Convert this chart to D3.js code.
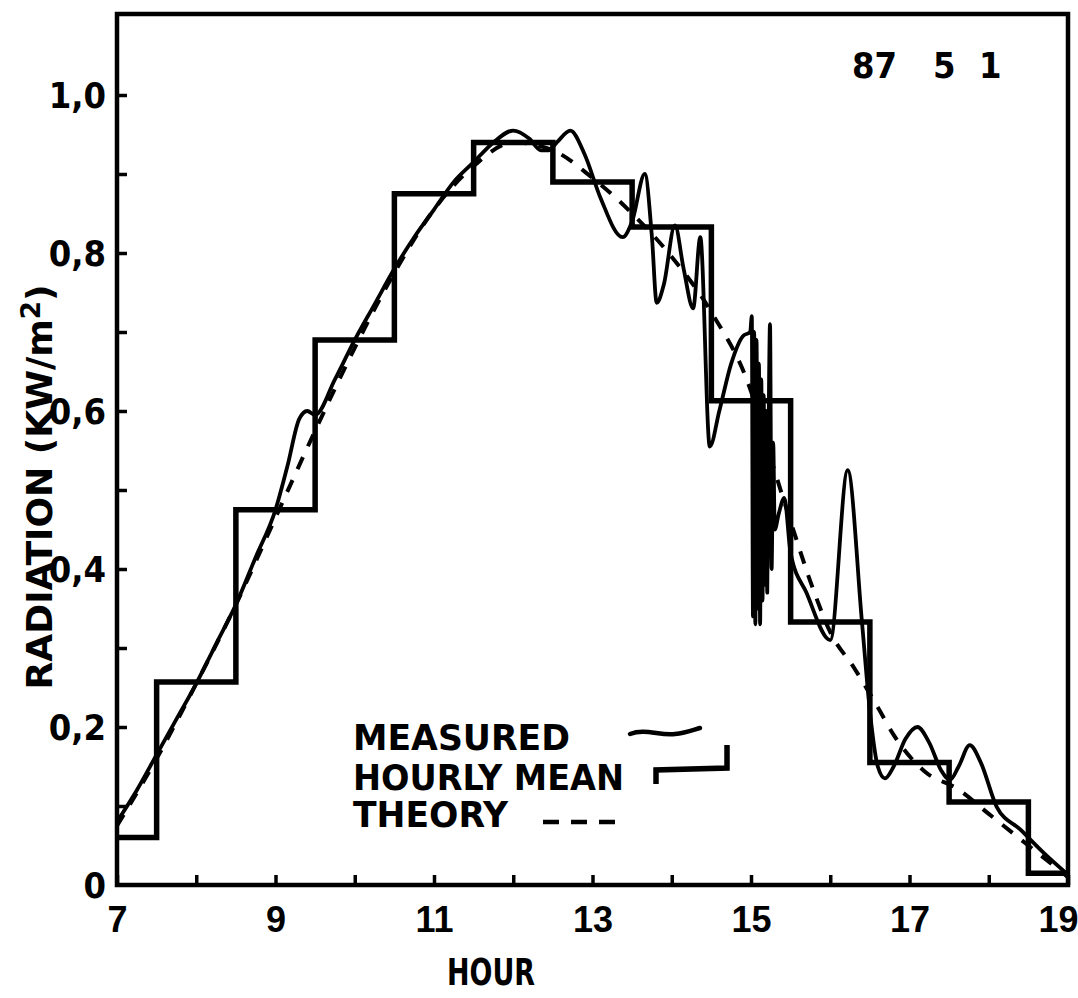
<!DOCTYPE html>
<html>
<head>
<meta charset="utf-8">
<script src="https://cdn.jsdelivr.net/npm/d3@7"></script>
<style>
  html, body { margin: 0; padding: 0; background: #fff; }
  svg { display: block; }
  text { font-family: "DejaVu Sans Condensed", "DejaVu Sans", sans-serif; font-weight: bold; fill: #000; }
  .num { font-family: "Liberation Sans Narrow", "DejaVu Sans Condensed", sans-serif; font-weight: bold; }
</style>
</head>
<body>
<svg id="chart" width="1078" height="998"></svg>
<script>
// ---- data ----
const xTickLabels = [7, 9, 11, 13, 15, 17, 19];
const yTickLabels = ["0", "0,2", "0,4", "0,6", "0,8", "1,0"];
const yTickValues = [0, 0.2, 0.4, 0.6, 0.8, 1.0];

const meanEdges  = [7, 7.5, 8.5, 9.5, 10.5, 11.5, 12.5, 13.5, 14.5, 15.5, 16.5, 17.5, 18.5, 19];
const meanValues = [0.06, 0.257, 0.475, 0.69, 0.875, 0.94, 0.89, 0.833, 0.613, 0.333, 0.155, 0.105, 0.015];

const theoryHours  = [7, 7.5, 8, 8.5, 9, 9.5, 10, 10.5, 11, 11.5, 12, 12.5, 13, 13.5, 14, 14.5, 15, 15.25, 15.5, 15.8, 16, 16.3, 16.6, 16.8, 17.2, 17.6, 18, 18.5, 19];
const theoryValues = [0.075, 0.16, 0.255, 0.355, 0.465, 0.575, 0.68, 0.775, 0.855, 0.91, 0.94, 0.93, 0.895, 0.85, 0.795, 0.725, 0.625, 0.54, 0.46, 0.37, 0.32, 0.275, 0.225, 0.19, 0.143, 0.122, 0.09, 0.05, 0.01];

const measuredHours = [7, 7.25, 7.5, 7.75, 8, 8.25, 8.5, 8.75, 9, 9.15, 9.3, 9.4, 9.5, 9.75, 10, 10.25, 10.5, 10.75, 11, 11.25, 11.5, 11.75, 12, 12.2, 12.35, 12.45, 12.55, 12.72, 12.9, 13.1, 13.38, 13.5, 13.66, 13.75, 13.81, 13.9, 14.04, 14.15, 14.27, 14.36, 14.48, 14.6, 14.75, 14.9, 14.99, 15.01, 15.025, 15.04, 15.055, 15.07, 15.085, 15.1, 15.115, 15.13, 15.145, 15.16, 15.175, 15.19, 15.205, 15.22, 15.24, 15.26, 15.28, 15.3, 15.35, 15.42, 15.5, 15.7, 16.0, 16.22, 16.4, 16.5, 16.6, 16.69, 16.8, 16.95, 17.1, 17.25, 17.4, 17.51, 17.62, 17.76, 17.9, 18.1, 18.4, 18.7, 19];
const measuredValues = [0.08, 0.12, 0.165, 0.21, 0.255, 0.305, 0.355, 0.415, 0.475, 0.53, 0.59, 0.6, 0.595, 0.64, 0.69, 0.735, 0.78, 0.82, 0.855, 0.89, 0.915, 0.94, 0.955, 0.945, 0.93, 0.93, 0.94, 0.955, 0.925, 0.87, 0.82, 0.84, 0.9, 0.82, 0.737, 0.76, 0.835, 0.78, 0.73, 0.82, 0.555, 0.6, 0.66, 0.695, 0.7, 0.72, 0.34, 0.7, 0.33, 0.69, 0.35, 0.66, 0.33, 0.64, 0.36, 0.62, 0.38, 0.6, 0.37, 0.55, 0.71, 0.4, 0.56, 0.45, 0.47, 0.49, 0.42, 0.37, 0.31, 0.525, 0.333, 0.22, 0.15, 0.135, 0.15, 0.185, 0.2, 0.18, 0.145, 0.133, 0.15, 0.177, 0.155, 0.099, 0.07, 0.04, 0.013];

const legendLabels = ["MEASURED", "HOURLY MEAN", "THEORY"];
const dateLabel = ["87", "5", "1"];

// ---- layout ----
const svg = d3.select("#chart");
const L = 117, R = 1068, T = 14, B = 885;
const x = d3.scaleLinear().domain([7, 19]).range([L, R]);
const y = d3.scaleLinear().domain([0, 1]).range([B, 95]);

// frame
svg.append("rect").attr("x", L).attr("y", T).attr("width", R - L).attr("height", B - T)
  .attr("fill", "none").attr("stroke", "#000").attr("stroke-width", 4.5);

// x axis ticks (inward)
const xAxis = d3.axisBottom(x).tickValues(d3.range(7, 20, 1)).tickSize(-10)
  .tickFormat(d => xTickLabels.includes(d) ? d : "");
const gx = svg.append("g").attr("transform", `translate(0,${B})`).call(xAxis);
gx.select(".domain").remove();
gx.selectAll(".tick line").attr("stroke", "#000").attr("stroke-width", 3.5);
gx.selectAll(".tick text").attr("class", "num").attr("font-size", 36).attr("dy", 0).attr("y", 47)
  .attr("text-anchor", d => d === 19 ? "end" : "middle")
  .attr("x", d => d === 19 ? 10 : 0)
  .style("font-family", "'Liberation Sans Narrow', sans-serif").style("font-weight", "bold");

// y axis ticks (inward)
const yAxis = d3.axisLeft(y).tickValues(d3.range(1, 11).map(i => i / 10)).tickSize(-10)
  .tickFormat("");
const gy = svg.append("g").attr("transform", `translate(${L},0)`).call(yAxis);
gy.select(".domain").remove();
gy.selectAll(".tick line").attr("stroke", "#000").attr("stroke-width", 3.5);

svg.append("g").selectAll("text").data(yTickValues).join("text")
  .attr("class", "num")
  .attr("x", 106).attr("y", d => y(d) + 13)
  .attr("text-anchor", "end").attr("font-size", 36)
  .text((d, i) => yTickLabels[i]);

// clip
svg.append("clipPath").attr("id", "clip").append("rect")
  .attr("x", L).attr("y", T).attr("width", R - L).attr("height", B - T);
const plot = svg.append("g").attr("clip-path", "url(#clip)");

// hourly mean step
const stepPts = meanEdges.map((h, i) => [h, i < meanValues.length ? meanValues[i] : meanValues[meanValues.length - 1]]);
plot.append("path").datum(stepPts)
  .attr("d", d3.line().x(d => x(d[0])).y(d => y(d[1])).curve(d3.curveStepAfter))
  .attr("fill", "none").attr("stroke", "#000").attr("stroke-width", 5.5).attr("stroke-linejoin", "miter");

// theory dashed
plot.append("path").datum(theoryHours.map((h, i) => [h, theoryValues[i]]))
  .attr("d", d3.line().x(d => x(d[0])).y(d => y(d[1])).curve(d3.curveMonotoneX))
  .attr("fill", "none").attr("stroke", "#000").attr("stroke-width", 4)
  .attr("stroke-dasharray", "13 12");

// measured
plot.append("path").datum(measuredHours.map((h, i) => [h, measuredValues[i]]))
  .attr("d", d3.line().x(d => x(d[0])).y(d => y(d[1])).curve(d3.curveMonotoneX))
  .attr("fill", "none").attr("stroke", "#000").attr("stroke-width", 3.8).attr("stroke-linejoin", "round");

// legend
const legY = [750, 790, 827];
const legW = [217, 271, 155];
svg.append("g").selectAll("text").data(legendLabels).join("text")
  .attr("x", 353).attr("y", (d, i) => legY[i])
  .attr("font-size", 35).attr("textLength", (d, i) => legW[i]).attr("lengthAdjust", "spacingAndGlyphs")
  .text(d => d);
// legend symbols
svg.append("path").attr("d", "M630,734 C645,728 660,736 675,734 C685,733 693,730 700,728")
  .attr("fill", "none").attr("stroke", "#000").attr("stroke-width", 4.5).attr("stroke-linecap", "round");
svg.append("path").attr("d", "M656,784 L656,770 L727,768 L727,745")
  .attr("fill", "none").attr("stroke", "#000").attr("stroke-width", 5.5);
svg.append("line").attr("x1", 543).attr("x2", 619).attr("y1", 822).attr("y2", 822)
  .attr("stroke", "#000").attr("stroke-width", 4.5).attr("stroke-dasharray", "16 12");

// date label
const dateX = [852, 933, 979];
svg.append("g").selectAll("text").data(dateLabel).join("text")
  .attr("class", "num")
  .attr("x", (d, i) => dateX[i]).attr("y", 78).attr("font-size", 36).text(d => d);

// axis titles
svg.append("text").attr("x", 491).attr("y", 985).attr("text-anchor", "middle")
  .attr("font-size", 37).attr("textLength", 88).attr("lengthAdjust", "spacingAndGlyphs").text("HOUR");

const yl = svg.append("text").attr("transform", "translate(52,487) rotate(-90)")
  .attr("text-anchor", "middle").attr("font-size", 36).attr("textLength", 405).attr("lengthAdjust", "spacingAndGlyphs");
yl.append("tspan").text("RADIATION (KW/m");
yl.append("tspan").attr("dy", -12).attr("font-size", 26).text("2");
yl.append("tspan").attr("dy", 12).text(")");
</script>
</body>
</html>
